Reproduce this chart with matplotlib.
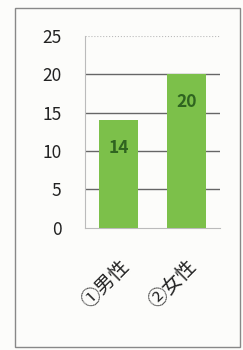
import matplotlib.pyplot as plt
from matplotlib.patches import Rectangle

plt.rcParams['font.family'] = ['Noto Sans CJK JP', 'DejaVu Sans']

categories = ['①男性', '②女性']
values = [14, 20]
yticks = [0, 5, 10, 15, 20, 25]

fig = plt.figure(figsize=(2.43, 3.5), dpi=100, facecolor='#fcfcfa')
ax = fig.add_axes([0.35, 0.349, 0.555, 0.548])
ax.set_facecolor('#fcfcfa')

x = range(len(categories))
bars = ax.bar(x, values, width=0.58, color='#7cc04a', zorder=3)

for rect, v in zip(bars, values):
    ax.annotate(str(v), (rect.get_x() + rect.get_width() / 2, v),
                xytext=(0, -20), textcoords='offset points',
                ha='center', va='center', fontsize=12.5, fontweight='bold',
                color='#2f6420', zorder=4)

ax.set_xlim(-0.5, 1.5)
ax.set_ylim(0, 25)
ax.set_yticks(yticks)
ax.set_yticklabels([str(t) for t in yticks], fontsize=12.5, color='#222222')
ax.tick_params(axis='y', length=0, pad=17)
ax.set_xticks(list(x))
ax.set_xticklabels(categories, rotation=45, ha='right', rotation_mode='anchor',
                   fontsize=14, color='#222222')
ax.tick_params(axis='x', length=0, pad=20)

for t in yticks[1:-1]:
    ax.axhline(t, color='#666666', linewidth=1, zorder=1)
ax.axhline(25, color='#bbbbbb', linewidth=0.8, linestyle=':', zorder=1)

for s in ['top', 'right']:
    ax.spines[s].set_visible(False)
ax.spines['left'].set_color('#bbbbbb')
ax.spines['bottom'].set_color('#bbbbbb')

fig.patches.append(Rectangle((15 / 243, 3 / 350), 225 / 243, 339 / 350,
                             transform=fig.transFigure, fill=False,
                             edgecolor='#888888', linewidth=1))

fig.savefig('out.png', dpi=100, facecolor=fig.get_facecolor())
